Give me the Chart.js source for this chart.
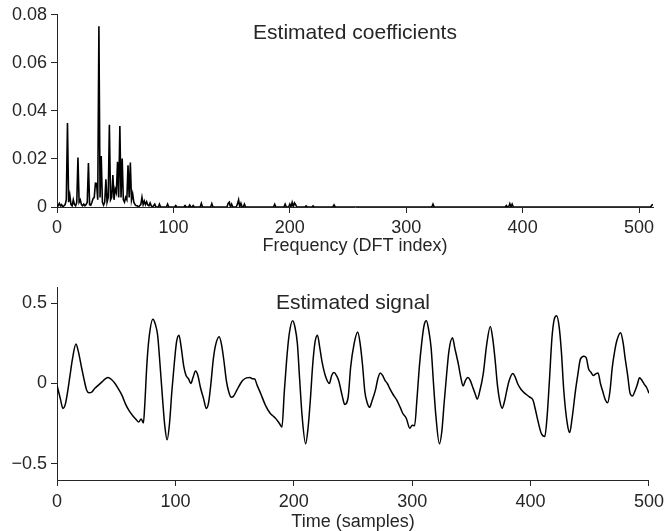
<!DOCTYPE html>
<html>
<head>
<meta charset="utf-8">
<script src="https://cdn.jsdelivr.net/npm/chart.js@4/dist/chart.umd.min.js"></script>
<style>
  html, body { margin: 0; padding: 0; background: #fff; }
  #wrap { position: relative; width: 669px; height: 531px; overflow: hidden; }
  canvas { position: absolute; left: 0; }
  #coefChart { top: 0; }
  #signalChart { top: 260px; }
</style>
</head>
<body>
<div id="wrap">
  <canvas id="coefChart" width="669" height="260"></canvas>
  <canvas id="signalChart" width="669" height="273"></canvas>
</div>
<script>
// spectrum: DFT index -> coefficient (everything not listed sits at 0)
const specIndex = [1, 2, 3, 4, 6, 7, 8, 9, 10, 11, 12, 13, 14, 15, 16, 17, 18, 19, 20, 21, 22, 23, 24, 25, 26, 27, 28, 29, 30,
  31, 32, 33, 34, 35, 36, 37, 38, 39, 40, 41, 42, 43, 44, 45, 46, 47, 48, 49, 50, 51, 52, 53, 54, 55, 56, 57, 58, 59, 60,
  61, 62, 63, 64, 65, 66, 67, 68, 69, 71, 72, 73, 74, 75, 76, 77, 78, 79, 80, 81, 83, 84, 88, 95, 102, 110, 114, 117, 124,
  133, 147, 148, 150, 155, 156, 158, 161, 187, 196, 200, 202, 204, 205, 214, 220, 238, 323, 386, 389, 391, 511, 512];
const specValue = [0.0005, 0.0015, 0.0005, 0.001, 0.0005, 0.001, 0.003, 0.035, 0.002, 0.005, 0.001, 0.0005, 0.003, 0.001,
  0.0005, 0.002, 0.0206, 0.002, 0.003, 0.001, 0.0005, 0.0012, 0.0005, 0.001, 0.002, 0.0183, 0.001, 0.0008, 0.002,
  0.0035, 0.004, 0.0099, 0.0098, 0.003, 0.0752, 0.004, 0.0212, 0.002, 0.0008, 0.002, 0.0115, 0.002, 0.004, 0.0342, 0.003,
  0.004, 0.0133, 0.003, 0.0075, 0.006, 0.0188, 0.004, 0.0337, 0.004, 0.0202, 0.003, 0.002, 0.004, 0.003,
  0.0174, 0.004, 0.0185, 0.003, 0.0055, 0.002, 0.001, 0.0005, 0.0005, 0.0005, 0.001, 0.004, 0.001, 0.0025, 0.001, 0.0022,
  0.0008, 0.0005, 0.0017, 0.0005, 0.0005, 0.0012, 0.0012, 0.0012, 0.0006, 0.0006, 0.0008, 0.0006, 0.0015,
  0.0014, 0.0015, 0.002, 0.0012, 0.0012, 0.003, 0.0015, 0.0012, 0.0011, 0.0012, 0.0012, 0.0019, 0.0017, 0.001, 0.0005,
  0.0005, 0.0009, 0.0012, 0.0006, 0.0014, 0.0012, 0.0008, 0.001];
const specLength = 513;

// estimated signal: sample -> value
const sigTime = [0, 3, 5, 7, 9, 11, 13, 16, 18, 21, 23, 25, 27, 29, 32, 35, 38, 41, 43, 46, 49, 52, 55, 58, 61, 64, 67, 69,
  71, 73, 74, 76, 78, 81, 83, 85, 87, 89, 91, 93, 95, 97, 99, 101, 103, 105, 107, 109, 111, 113, 115, 117, 119, 121, 124,
  126, 128, 130, 132, 134, 137, 139, 141, 143, 145, 147, 149, 152, 155, 157, 160, 163, 165, 167, 169, 172, 176, 180, 183,
  185, 188, 190, 192, 194, 196, 199, 201, 203, 205, 207, 210, 212, 214, 216, 218, 220, 222, 224, 227, 230, 232, 234, 236,
  238, 241, 243, 246, 248, 251, 254, 256, 258, 260, 262, 264, 266, 269, 271, 273, 275, 277, 279, 281, 284, 287, 290, 292,
  295, 298, 300, 302, 304, 306, 308, 310, 312, 314, 316, 318, 320, 323, 325, 327, 329, 331, 334, 336, 339, 341, 343, 345,
  347, 349, 351, 353, 355, 357, 360, 363, 366, 368, 370, 372, 374, 376, 378, 380, 382, 385, 387, 389, 392, 395, 399, 402,
  404, 406, 409, 412, 414, 416, 418, 420, 422, 424, 426, 428, 431, 433, 435, 438, 440, 442, 445, 447, 449, 451, 453, 455,
  457, 459, 461, 463, 465, 467, 469, 471, 473, 476, 478, 480, 482, 484, 486, 488, 490, 492, 494, 496, 498, 500];
const sigValue = [-0.01, -0.1, -0.155, -0.13, -0.05, 0.05, 0.15, 0.245, 0.2, 0.09, 0.02, -0.04, -0.057, -0.055, -0.03,
  -0.01, 0.01, 0.03, 0.037, 0.025, 0.0, -0.035, -0.075, -0.13, -0.17, -0.2, -0.225, -0.24,
  -0.22, -0.245, -0.15, 0.13, 0.3, 0.4, 0.37, 0.3, 0.12, -0.08, -0.26, -0.35, -0.25, -0.05, 0.12, 0.26, 0.3, 0.22, 0.11,
  0.05, 0.03, 0.0, 0.04, 0.078, 0.05, -0.02, -0.1,
  -0.155, -0.12, 0.0, 0.15, 0.24, 0.29, 0.24, 0.14, 0.02, -0.05, -0.085, -0.08, -0.04, 0.0, 0.02, 0.035, 0.037, 0.03,
  0.028, -0.01, -0.062, -0.134, -0.185, -0.205,
  -0.22, -0.25, -0.27, -0.05, 0.15, 0.3, 0.39, 0.35, 0.25, 0.02, -0.2, -0.375, -0.28, -0.1, 0.12, 0.26, 0.3, 0.22, 0.13,
  0.04, 0.0, 0.05, 0.068, 0.05,
  0.015, -0.08, -0.13, -0.08, 0.1, 0.25, 0.32, 0.25, 0.12, -0.05, -0.12, -0.148, -0.11, -0.04, 0.03, 0.066, 0.05, 0.02,
  0.0, -0.03, -0.07, -0.103, -0.15, -0.185,
  -0.216, -0.278, -0.26, -0.263, -0.1, 0.1, 0.25, 0.36, 0.39, 0.33, 0.22, 0.0, -0.2, -0.375, -0.3, -0.12, 0.05, 0.2,
  0.284, 0.22, 0.12, 0.04, -0.016, 0.02,
  0.037, 0.02, -0.02, -0.06, -0.097, -0.05, 0.06, 0.247, 0.355, 0.28, 0.15, -0.01, -0.11, -0.154, -0.11, -0.04, 0.02,
  0.062, 0.04, 0.0, -0.037, -0.06, -0.083, -0.103,
  -0.16, -0.226, -0.309, -0.33, -0.2, 0.03, 0.28, 0.4, 0.422, 0.36, 0.2, -0.04, -0.25, -0.305, -0.22, -0.04, 0.06, 0.15,
  0.17, 0.16, 0.09, 0.07, 0.05, 0.06,
  0.065, 0.0, -0.05, -0.1, -0.12, -0.05, 0.1, 0.2, 0.27, 0.315, 0.26, 0.15, 0.05, -0.06, -0.078, -0.05, -0.01, 0.035,
  0.02, -0.005, -0.025, -0.06];

// ticks
const freqTicks = [0, 100, 200, 300, 400, 500];
const coefTicks = [0, 0.02, 0.04, 0.06, 0.08];
const coefTickLabels = ['0', '0.02', '0.04', '0.06', '0.08'];
const timeTicks = [0, 100, 200, 300, 400, 500];
const sigTicks = [-0.5, 0, 0.5];
const sigTickLabels = ['\u22120.5', '0', '0.5'];

const FONT_FAMILY = '"Liberation Sans", Arial, Helvetica, sans-serif';
const INK = '#262626';

// title drawn inside the plot area, like the original figure
const innerTitle = {
  id: 'innerTitle',
  afterDraw: (chart, args, opts) => {
    const { ctx, chartArea } = chart;
    ctx.save();
    ctx.font = `${opts.size}px ${FONT_FAMILY}`;
    ctx.fillStyle = INK;
    ctx.textAlign = 'center';
    ctx.textBaseline = 'middle';
    ctx.fillText(opts.text, (chartArea.left + chartArea.right) / 2, chartArea.top + opts.offset);
    ctx.restore();
  },
};

const axisStyle = {
  grid: { display: true, drawOnChartArea: false, drawTicks: true, tickLength: 6, color: INK, tickColor: INK, lineWidth: 1 },
  border: { display: true, color: INK, width: 1 },
};

const buildConfig = ({ points, xMax, xTicks, yMin, yMax, yTicks, yLabels, xTitle, title, lineWidth, monotone, fit }) => ({
  type: 'line',
  data: {
    datasets: [
      {
        data: points,
        borderColor: '#000',
        borderWidth: lineWidth,
        pointRadius: 0,
        fill: false,
        tension: 0,
        cubicInterpolationMode: monotone ? 'monotone' : 'default',
      },
    ],
  },
  options: {
    responsive: false,
    animation: false,
    devicePixelRatio: 1,
    layout: { padding: fit.padding },
    plugins: {
      legend: { display: false },
      tooltip: { enabled: false },
      innerTitle: { text: title.text, offset: title.offset, size: 21 },
    },
    scales: {
      x: {
        type: 'linear',
        min: 0,
        max: xMax,
        ...axisStyle,
        afterBuildTicks: (axis) => { axis.ticks = xTicks.map((v) => ({ value: v })); },
        afterFit: (axis) => { axis.height = fit.xHeight; },
        ticks: { color: INK, font: { family: FONT_FAMILY, size: 18 }, padding: fit.tickPad, maxRotation: 0, autoSkip: false },
        title: { display: true, text: xTitle, color: INK, font: { family: FONT_FAMILY, size: 18 }, padding: { top: 0, bottom: fit.titlePad } },
      },
      y: {
        type: 'linear',
        min: yMin,
        max: yMax,
        ...axisStyle,
        afterBuildTicks: (axis) => { axis.ticks = yTicks.map((v) => ({ value: v })); },
        afterFit: (axis) => { axis.width = 57; },
        ticks: { color: INK, font: { family: FONT_FAMILY, size: 18 }, padding: 4, callback: (value, i) => yLabels[i] },
      },
    },
  },
  plugins: [innerTitle],
});

(function () {
  const spectrum = new Array(specLength).fill(0);
  specIndex.forEach((k, i) => { spectrum[k] = specValue[i]; });
  const coefPoints = spectrum.map((v, k) => ({ x: k, y: v }));
  const sigPoints = sigTime.map((t, i) => ({ x: t, y: sigValue[i] }));

  new Chart(document.getElementById('coefChart'), buildConfig({
    points: coefPoints,
    xMax: 512,
    xTicks: freqTicks,
    yMin: 0,
    yMax: 0.08,
    yTicks: coefTicks,
    yLabels: coefTickLabels,
    xTitle: 'Frequency (DFT index)',
    title: { text: 'Estimated coefficients', offset: 18 },
    lineWidth: 1.6,
    monotone: false,
    fit: { padding: { top: 13, right: 16, bottom: 0, left: 0 }, xHeight: 53, titlePad: 3, tickPad: 4 },
  }));

  new Chart(document.getElementById('signalChart'), buildConfig({
    points: sigPoints,
    xMax: 500,
    xTicks: timeTicks,
    yMin: -0.6,
    yMax: 0.6,
    yTicks: sigTicks,
    yLabels: sigTickLabels,
    xTitle: 'Time (samples)',
    title: { text: 'Estimated signal', offset: 16 },
    lineWidth: 1.5,
    monotone: true,
    fit: { padding: { top: 27, right: 17, bottom: 0, left: 0 }, xHeight: 53, titlePad: 0, tickPad: 5 },
  }));
})();
</script>
</body>
</html>
